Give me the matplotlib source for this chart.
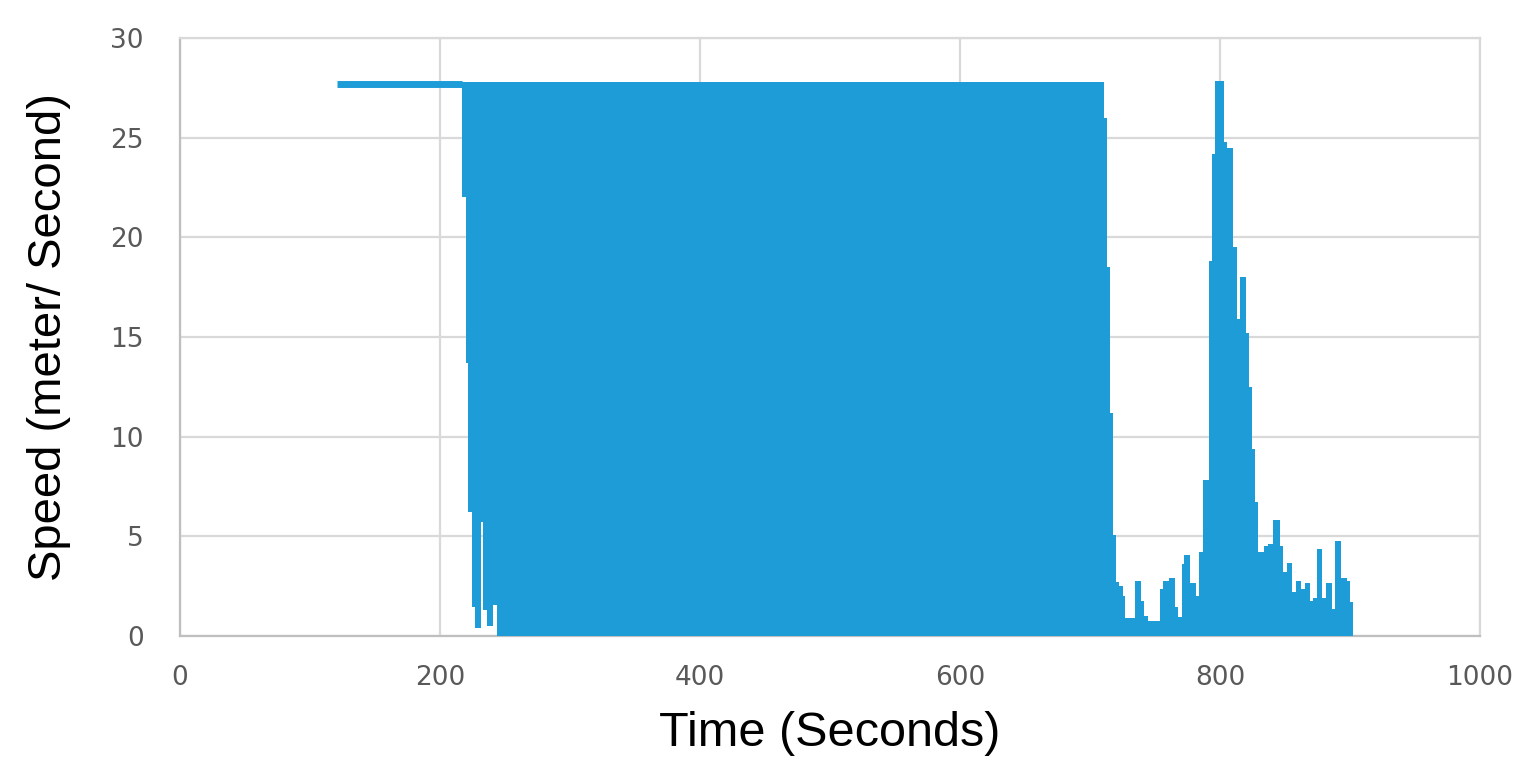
import numpy as np
import matplotlib.pyplot as plt

# flat cruise segment before the oscillation starts
flat_t = [120.8, 217.2]
flat_v = [27.7, 27.7]

# oscillating section drawn as an envelope (step breakpoints, seconds)
env_t = [217.2, 219.8, 221.8, 224.4, 226.9, 231.5, 233.3, 235.9, 241.0, 243.6,
         710.4, 713.1, 715.4, 717.7, 720.0, 722.3, 725.2, 727.2, 734.6, 739.2,
         741.8, 744.4, 753.8, 755.9, 761.0, 765.4, 767.9, 770.5, 772.5, 776.9,
         781.5, 784.1, 786.7, 791.5, 794.1, 796.2, 803.1, 805.2, 810.2, 812.8,
         815.4, 819.8, 822.3, 824.6, 826.9, 829.2, 833.8, 836.9, 840.8, 846.2,
         848.5, 851.5, 855.4, 858.5, 862.3, 865.4, 869.2, 871.5, 874.6, 878.5,
         881.5, 886.2, 888.5, 893.1, 897.7, 900.0, 902.3]
env_hi = [27.8, 27.8, 27.8, 27.8, 27.8, 27.8, 27.8, 27.8, 27.8, 27.8,
          26.0, 18.5, 11.2, 5.07, 2.7, 2.5, 2.0, 0.9, 2.76, 1.76,
          1.0, 0.75, 2.36, 2.76, 2.9, 1.45, 0.95, 3.6, 4.06, 2.66,
          2.0, 4.2, 7.8, 18.8, 24.2, 27.85, 24.8, 24.5, 19.5, 15.9,
          18.0, 15.2, 12.5, 9.4, 6.7, 4.2, 4.5, 4.6, 5.8, 4.5,
          3.2, 3.66, 2.2, 2.76, 2.36, 2.66, 1.76, 1.9, 4.37, 1.9,
          2.66, 1.35, 4.77, 2.9, 2.76, 1.7, 1.7]
env_lo = [22.0, 13.7, 6.2, 1.45, 0.4, 5.7, 1.3, 0.5, 1.55, 0.0,
          0, 0, 0, 0, 0, 0, 0, 0, 0, 0,
          0, 0, 0, 0, 0, 0, 0, 0, 0, 0,
          0, 0, 0, 0, 0, 0, 0, 0, 0, 0,
          0, 0, 0, 0, 0, 0, 0, 0, 0, 0,
          0, 0, 0, 0, 0, 0, 0, 0, 0, 0,
          0, 0, 0, 0, 0, 0, 0]

x_ticks = [0, 200, 400, 600, 800, 1000]
y_ticks = [0, 5, 10, 15, 20, 25, 30]

blue = '#1E9CD7'
grid_c = '#D9D9D9'

fig = plt.figure(figsize=(15.38, 7.72), dpi=100)
ax = fig.add_axes([0.117, 0.1762, 0.8453, 0.7746])

ax.plot(flat_t, flat_v, color=blue, lw=5, solid_capstyle='butt', zorder=3)
ax.fill_between(env_t, env_lo, env_hi, step='post', color=blue, lw=0, zorder=3)

ax.set_xlim(0, 1000)
ax.set_ylim(0, 30)
ax.set_xticks(x_ticks)
ax.set_yticks(y_ticks)
ax.grid(True, color=grid_c, lw=1.6, zorder=0)
ax.set_axisbelow(True)
for s in ['top', 'right']:
    ax.spines[s].set_color(grid_c)
    ax.spines[s].set_linewidth(1.6)
for s in ['left', 'bottom']:
    ax.spines[s].set_color('#BFBFBF')
    ax.spines[s].set_linewidth(1.6)

ax.tick_params(length=0, labelsize=19, labelcolor='#595959')
ax.tick_params(axis='y', pad=26)
ax.tick_params(axis='x', pad=21)

ax.set_xlabel('Time (Seconds)', fontsize=35, family='Liberation Sans', labelpad=14)
ax.set_ylabel('Speed (meter/ Second)', fontsize=34, family='Liberation Sans', labelpad=28)

fig.savefig('out.png', dpi=100)
